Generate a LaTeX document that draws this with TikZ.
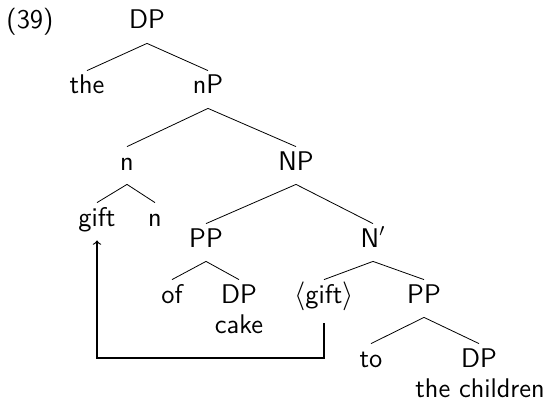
\documentclass[tikz,border=0pt]{standalone}
\begin{document}
\begin{tikzpicture}[x=0.5pt,y=0.5pt,font=\fontsize{13.5}{16}\sffamily,
		lbl/.style={anchor=base,inner sep=2pt,text height=9.5pt,text depth=5pt}]
		\useasboundingbox (0,0) rectangle (546,-401);
		\node[lbl] (num) at (30,-29) {(39)};
		% top levels
		\node[lbl] (dp) at (147,-29) {DP};
		\node[lbl] (the) at (87,-94) {the};
		\node[lbl] (np) at (208,-94) {nP};
		\node[lbl] (n) at (127,-170) {n};
		\node[lbl] (bigNP) at (296,-170) {NP};
		\node[lbl] (gift) at (97,-226) {gift};
		\node[lbl] (nhead) at (155,-226) {n};
		\node[lbl] (ppof) at (206,-247) {PP};
		\node[lbl] (nbar) at (373,-247) {N$'$};
		\node[lbl] (of) at (172,-303) {of};
		\node[lbl] (dpcake) at (239,-303) {DP};
		\node[lbl] (cake) at (239,-333) {cake};
		\node[lbl] (trace) at (324,-303) {$\langle$gift$\rangle$};
		\node[lbl] (ppto) at (424,-303) {PP};
		\node[lbl] (to) at (371,-367) {to};
		\node[lbl] (dpch) at (479,-367) {DP};
		\node[lbl] (child) at (480,-397) {the children};
		% branches
		\draw (dp.south) -- (the.north);
		\draw (dp.south) -- (np.north);
		\draw (np.south) -- (n.north);
		\draw (np.south) -- (bigNP.north);
		\draw (n.south) -- (gift.north);
		\draw (n.south) -- (nhead.north);
		\draw (bigNP.south) -- (ppof.north);
		\draw (bigNP.south) -- (nbar.north);
		\draw (ppof.south) -- (of.north);
		\draw (ppof.south) -- (dpcake.north);
		\draw (nbar.south) -- (trace.north);
		\draw (nbar.south) -- (ppto.north);
		\draw (ppto.south) -- (to.north);
		\draw (ppto.south) -- (dpch.north);
		% movement
		\coordinate (turn) at (324,-358);
		\draw[->,semithick] ([yshift=-3pt]trace.south) -- (turn) -| (gift.south);
	\end{tikzpicture}
\end{document}
